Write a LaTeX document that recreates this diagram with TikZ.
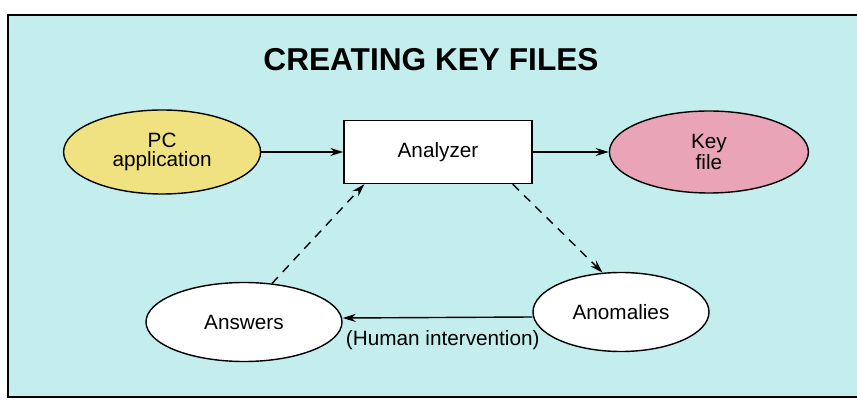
\documentclass[tikz,border=0pt]{standalone}
\usepackage{fontspec}
\setmainfont{Liberation Sans}
\usetikzlibrary{shapes.geometric,positioning,arrows.meta}

\definecolor{sheet}{RGB}{196,238,238}
\definecolor{pcyellow}{RGB}{240,226,128}
\definecolor{keypink}{RGB}{234,164,184}

\begin{document}
\begin{tikzpicture}[
  every node/.style={align=center,font=\fontsize{11.8}{10.8}\selectfont},
  blob/.style={ellipse,draw,thick,inner sep=0pt},
  procbox/.style={rectangle,draw,thick,fill=white,minimum width=3.76cm,minimum height=1.26cm},
  flow/.style={thick,-{Stealth[length=2.6mm,width=1.6mm]}},
  hint/.style={flow,dash pattern=on 5pt off 4pt},
  node distance=1.6cm
]
  \clip (0,0) rectangle (17.14,-8);
  \fill[white] (0,0) rectangle (17.14,-8);
  \draw[thick,fill=sheet] (0.16,-0.3) rectangle (17.4,-7.94);

  \node[font=\bfseries\fontsize{18}{20}\selectfont] (title) at (8.62,-1.2) {CREATING KEY FILES};

  % top row
  \node[procbox] (analyzer) at (8.76,-3.04) {Analyzer};
  \node[blob,fill=pcyellow,minimum width=3.94cm,minimum height=1.68cm,
    left=1.64cm of analyzer] (pc) {PC\\application};
  \node[blob,fill=keypink,minimum width=3.98cm,minimum height=1.64cm,
    right=1.52cm of analyzer] (keyfile) {Key\\file};

  % bottom row
  \node[blob,fill=white,minimum width=3.92cm,minimum height=1.58cm] (answers) at (4.88,-6.44) {Answers};
  \node[blob,fill=white,minimum width=3.52cm,minimum height=1.58cm] (anomalies) at (12.42,-6.24) {Anomalies};

  \draw[flow] (pc) -- (analyzer);
  \draw[flow] (analyzer) -- (keyfile);
  \draw[hint] ([xshift=-0.4cm]analyzer.south east) -- (anomalies.115);
  \draw[hint] (answers.54) -- ([xshift=0.42cm]analyzer.south west);
  \draw[flow] ([yshift=-0.1cm]anomalies.west) -- ([yshift=0.08cm]answers.east)
    node[midway,below=3.5pt,xshift=3pt] (human) {(Human intervention)};
\end{tikzpicture}
\end{document}
